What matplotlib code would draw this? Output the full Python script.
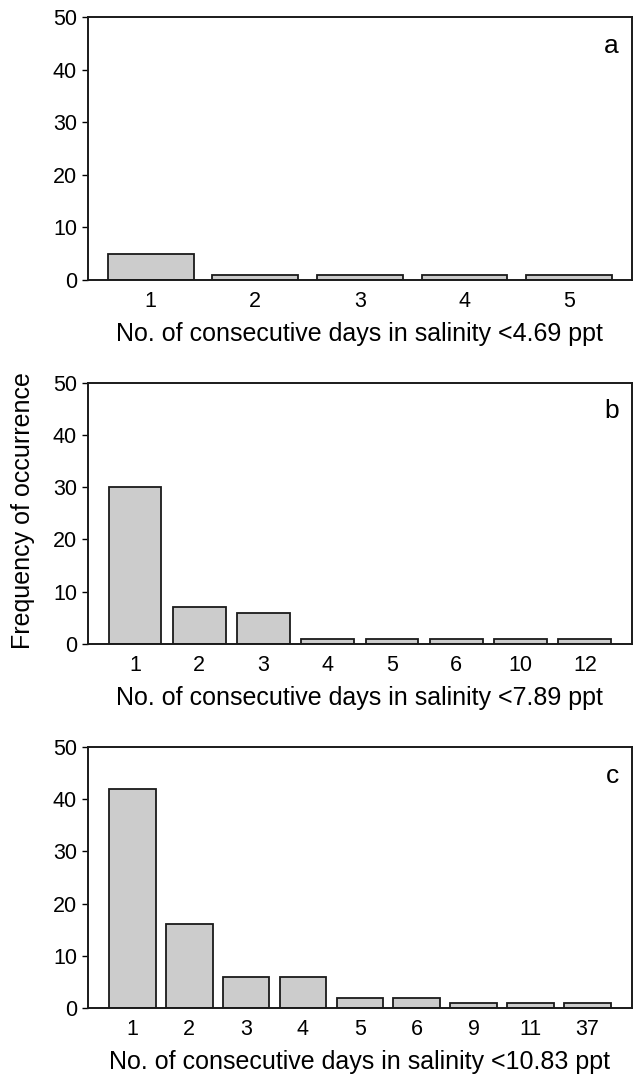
import numpy as np
import matplotlib
matplotlib.use('Agg')
from matplotlib import pyplot as plt

plt.rcParams['font.family'] = ['Liberation Sans', 'DejaVu Sans']

# values
days_a = ['1', '2', '3', '4', '5']
freq_a = [5, 1, 1, 1, 1]

days_b = ['1', '2', '3', '4', '5', '6', '10', '12']
freq_b = [30, 7, 6, 1, 1, 1, 1, 1]

days_c = ['1', '2', '3', '4', '5', '6', '9', '11', '37']
freq_c = [42, 16, 6, 6, 2, 2, 1, 1, 1]

xlabels = ['No. of consecutive days in salinity <4.69 ppt',
           'No. of consecutive days in salinity <7.89 ppt',
           'No. of consecutive days in salinity <10.83 ppt']
panel_tags = ['a', 'b', 'c']

fig = plt.figure(figsize=(6.33, 10.75), dpi=100)

# axes boxes in figure fractions (left, bottom, width, height)
boxes = [[0.139, 0.7395, 0.859, 0.2446],
         [0.139, 0.401, 0.859, 0.243],
         [0.139, 0.0623, 0.859, 0.243]]
margins = [0.6, 0.73, 0.78]

panels = [(days_a, freq_a), (days_b, freq_b), (days_c, freq_c)]

for i, (days, freq) in enumerate(panels):
    ax = fig.add_axes(boxes[i])
    x = np.arange(len(days))
    ax.bar(x, freq, width=0.82, color='#cccccc', edgecolor='#1a1a1a',
           linewidth=1.3, zorder=2)
    ax.set_xlim(-margins[i], len(days) - 1 + margins[i])
    ax.set_ylim(0, 50)
    ax.set_yticks([0, 10, 20, 30, 40, 50])
    ax.set_xticks(x)
    ax.set_xticklabels(days)
    ax.tick_params(axis='x', length=0, pad=8, labelsize=15.5)
    ax.tick_params(axis='y', length=4, width=1, direction='out', pad=4,
                   labelsize=15.5)
    for s in ax.spines.values():
        s.set_linewidth(1.4)
        s.set_color('#1a1a1a')
    ax.set_xlabel(xlabels[i], fontsize=18, labelpad=7)
    ax.text(0.976, 0.863, panel_tags[i], transform=ax.transAxes,
            ha='right', va='baseline', fontsize=19)

fig.text(0.036, 0.5247, 'Frequency of occurrence', rotation=90,
         ha='center', va='center', fontsize=18)

plt.savefig('out.png', dpi=100)
